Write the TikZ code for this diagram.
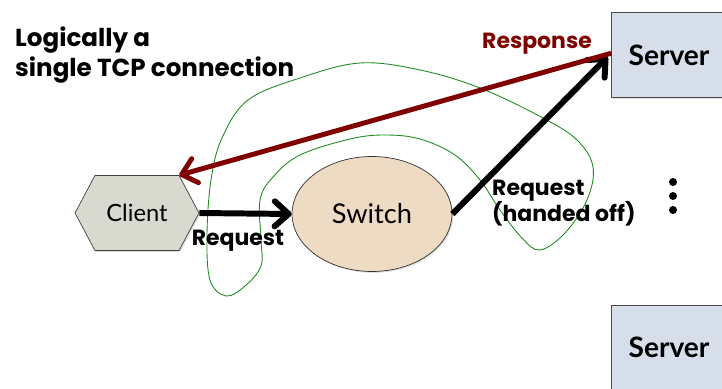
\documentclass[tikz,border=0pt]{standalone}
\usepackage{fontspec}
\setmainfont{Lato}
\newfontfamily\handfont{Poppins}
\usetikzlibrary{arrows.meta,positioning,shapes.geometric,shapes.symbols,shadows}

\definecolor{respred}{HTML}{800000}
\definecolor{boxblue}{HTML}{D6DEEA}
\definecolor{clientgray}{HTML}{D9DACF}
\definecolor{switchtan}{HTML}{EDDCC3}
\definecolor{loopgreen}{HTML}{1E8C1E}

\begin{document}
\begin{tikzpicture}[
  x=0.02cm, y=-0.02cm,
  >={Straight Barb[length=2.8mm, width=5mm, round]},
  shade/.style={drop shadow={opacity=.25, shadow xshift=.8pt, shadow yshift=-.8pt}},
  conn/.style={->, line width=3.4pt, draw=black},
  resp/.style={->, line width=2.8pt, draw=respred},
  srv/.style={draw=black!70, fill=boxblue, shade, minimum width=2.3cm,
              minimum height=1.7cm, font=\bfseries\fontsize{16}{18}\selectfont},
  hand/.style={font=\handfont\bfseries\fontsize{12.5}{15}\selectfont, align=left}
]
\useasboundingbox (0,0) rectangle (722,388);

% ---------- hosts ----------
\node[draw=black!75, fill=clientgray, shade, signal, signal to=west and east,
      signal pointer angle=124, minimum width=2.48cm, minimum height=1.5cm,
      font=\fontsize{13.5}{16}\selectfont] (client) at (137,213) {Client};
\node[draw=black!80, fill=switchtan, shade, ellipse, minimum width=3.2cm,
      minimum height=2.3cm, font=\fontsize{15.5}{18}\selectfont] (switch) at (372,214) {Switch};
\node[srv] (srvtop) at (669,55) {Server};
\node[srv, below=4.14cm of srvtop] (srvbot) {Server};

% more servers
\foreach \y in {182,196,210}
  \fill (673,\y) circle[radius=0.08cm];

% ---------- connection loop ----------
\draw[loopgreen, line width=.5pt] plot[smooth cycle, tension=.6] coordinates {
  (226,296) (210,280) (207,235) (211,180) (222,138) (248,100) (300,78)
  (360,63) (420,70) (480,88) (543,118) (577,140) (593,167) (587,200)
  (565,233) (540,250) (522,238) (500,210) (480,180) (455,155) (420,139)
  (385,135) (350,139) (300,155) (273,177) (260,200) (261,240) (261,266)
  (245,286)};

% ---------- edges ----------
\draw[conn] (client.east) -- (switch.west);
\draw[conn] (switch.east) -- ([xshift=-2pt, yshift=-1pt]srvtop.west);
\draw[resp] ([yshift=1pt]srvtop.west) -- (client.north east);

% ---------- labels ----------
\node[hand] (reqlbl) at (238,241) {Request};
\node[hand, anchor=north west] (hofflbl) at (486,174) {Request\\(handed off)};
\node[hand, text=respred] (resplbl) at (537,44) {Response};
\node[hand, anchor=north west, font=\handfont\bfseries\fontsize{14}{17}\selectfont]
  (note) at (9,21) {Logically a\\single TCP connection};

\end{tikzpicture}
\end{document}
